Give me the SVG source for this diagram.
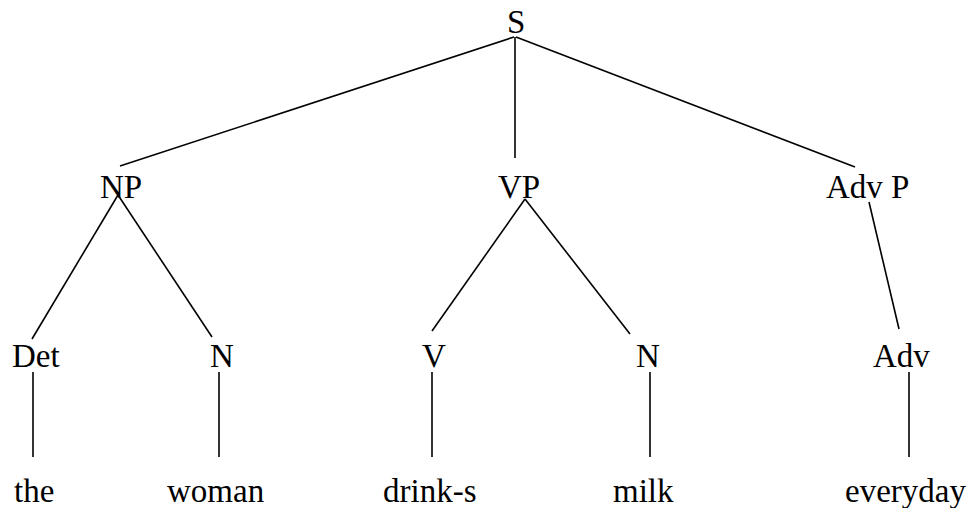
<svg xmlns="http://www.w3.org/2000/svg" width="974" height="508" viewBox="0 0 974 508">
  <style>
    .lbl { font-family: "Liberation Serif", "Times New Roman", serif; font-size: 33px; fill: #000; }
    .edge { stroke: #000; stroke-width: 1.6; fill: none; stroke-linecap: butt; }
  </style>
  <rect width="974" height="508" fill="#fff"/>

  <!-- tree branches -->
  <g id="connectors">
    <line class="edge" x1="514" y1="37" x2="120" y2="166"/>
    <line class="edge" x1="515" y1="37" x2="515" y2="158"/>
    <line class="edge" x1="516" y1="37" x2="855" y2="167"/>
    <line class="edge" x1="118" y1="195" x2="32" y2="339"/>
    <line class="edge" x1="118" y1="195" x2="212" y2="337"/>
    <line class="edge" x1="525" y1="199" x2="432" y2="331"/>
    <line class="edge" x1="525" y1="199" x2="630" y2="334"/>
    <line class="edge" x1="869" y1="202" x2="899" y2="329"/>
    <line class="edge" x1="33" y1="372" x2="33" y2="457"/>
    <line class="edge" x1="219" y1="372" x2="219" y2="457"/>
    <line class="edge" x1="432" y1="372" x2="432" y2="457"/>
    <line class="edge" x1="650" y1="372" x2="650" y2="457"/>
    <line class="edge" x1="909" y1="372" x2="909" y2="457"/>
  </g>

  <!-- phrase level -->
  <g id="node-S"><text class="lbl" x="507" y="33">S</text></g>
  <g id="node-NP"><text class="lbl" x="100" y="198">NP</text></g>
  <g id="node-VP"><text class="lbl" x="498" y="198">VP</text></g>
  <g id="node-AdvP"><text class="lbl" x="826" y="198">Adv P</text></g>

  <!-- word class level -->
  <g id="node-Det"><text class="lbl" x="12" y="367">Det</text></g>
  <g id="node-N1"><text class="lbl" x="210" y="367">N</text></g>
  <g id="node-V"><text class="lbl" x="422" y="367">V</text></g>
  <g id="node-N2"><text class="lbl" x="636" y="367">N</text></g>
  <g id="node-Adv"><text class="lbl" x="873" y="367">Adv</text></g>

  <!-- words -->
  <g id="leaf-the"><text class="lbl" x="14" y="502">the</text></g>
  <g id="leaf-woman"><text class="lbl" x="167" y="502">woman</text></g>
  <g id="leaf-drinks"><text class="lbl" x="383" y="502">drink-s</text></g>
  <g id="leaf-milk"><text class="lbl" x="613" y="502">milk</text></g>
  <g id="leaf-everyday"><text class="lbl" x="845" y="502">everyday</text></g>
</svg>
